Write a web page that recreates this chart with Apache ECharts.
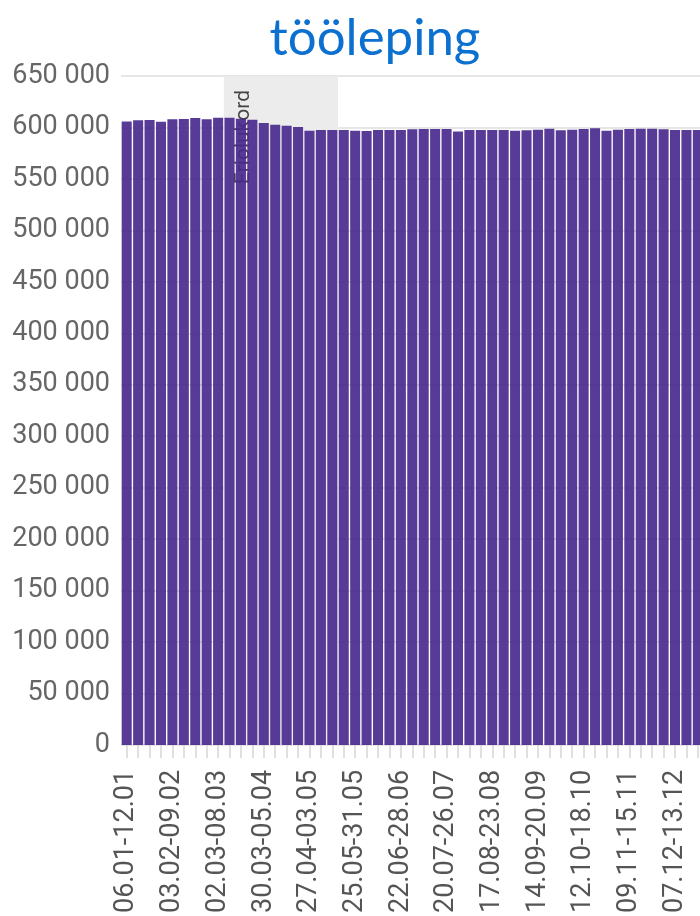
<!DOCTYPE html>
<html>
<head>
<meta charset="utf-8">
<script src="https://cdn.jsdelivr.net/npm/echarts@6/dist/echarts.min.js"></script>
<style>
html,body{margin:0;padding:0;overflow:hidden;background:#fff;width:700px;height:916px;}
#chart{width:750px;height:916px;}
</style>
</head>
<body>
<div id="chart"></div>
<script>
const titleText = 'tööleping';
const weeks = [
 '06.01-12.01','13.01-19.01','20.01-26.01','27.01-02.02','03.02-09.02','10.02-16.02','17.02-23.02','24.02-01.03',
 '02.03-08.03','09.03-15.03','16.03-22.03','23.03-29.03','30.03-05.04','06.04-12.04','13.04-19.04','20.04-26.04',
 '27.04-03.05','04.05-10.05','11.05-17.05','18.05-24.05','25.05-31.05','01.06-07.06','08.06-14.06','15.06-21.06',
 '22.06-28.06','29.06-05.07','06.07-12.07','13.07-19.07','20.07-26.07','27.07-02.08','03.08-09.08','10.08-16.08',
 '17.08-23.08','24.08-30.08','31.08-06.09','07.09-13.09','14.09-20.09','21.09-27.09','28.09-04.10','05.10-11.10',
 '12.10-18.10','19.10-25.10','26.10-01.11','02.11-08.11','09.11-15.11','16.11-22.11','23.11-29.11','30.11-06.12',
 '07.12-13.12','14.12-20.12','21.12-27.12','28.12-03.01'
];
const contracts = [
 605900,606900,607300,605600,607900,608200,609200,607900,
 609500,609500,608500,607600,604400,602700,601700,600400,
 596900,597500,597500,597500,596900,596600,597500,597500,
 597500,598200,598500,598500,598500,596000,597500,597500,
 597500,597500,596900,597200,597800,598800,597200,597800,
 598500,599200,596900,597800,598500,598800,598800,598200,
 597500,597500,597500,597000
];
const emergencyLabel = 'Eriolukord';
const emergencyFirstWeek = '09.03-15.03';
const emergencyLastWeek = '11.05-17.05';
const yTicks = {min: 0, max: 650000, interval: 50000};

const startIdx = weeks.indexOf(emergencyFirstWeek);
const endIdx = weeks.indexOf(emergencyLastWeek) + 1;

const fmt = v => String(v).replace(/\B(?=(\d{3})+(?!\d))/g, ' ');

const chart = echarts.init(document.getElementById('chart'));
chart.setOption({
  animation: false,
  title: {
    text: titleText, left: 'center', top: 8,
    textStyle: {fontFamily: 'Lato', fontWeight: 'normal', fontSize: 51, color: '#0b70d0'}
  },
  grid: {left: 121, right: 35, top: 76, bottom: 171, containLabel: false},
  xAxis: [{
    type: 'category', data: weeks, boundaryGap: true,
    axisLine: {show: false},
    axisTick: {show: true, alignWithLabel: true, interval: 0, length: 13, lineStyle: {color: '#d6d6d6', width: 1.5}},
    axisLabel: {interval: 3, rotate: 90, margin: 25, fontSize: 27, color: '#555', fontFamily: 'Roboto'}
  }, {
    type: 'value', min: 0, max: weeks.length, show: false
  }],
  yAxis: {
    type: 'value', min: yTicks.min, max: yTicks.max, interval: yTicks.interval,
    axisLine: {show: false}, axisTick: {show: false},
    axisLabel: {formatter: fmt, fontSize: 27, color: '#666', margin: 11, fontFamily: 'Roboto'},
    splitLine: {lineStyle: {color: '#dedede', width: 1.5}}
  },
  series: [{
    type: 'line', xAxisIndex: 1, data: [[startIdx, 0]], symbol: 'none', silent: true,
    lineStyle: {opacity: 0}, z: 1,
    markArea: {
      silent: true,
      itemStyle: {color: '#ececec'},
      label: {
        show: true, formatter: emergencyLabel, rotate: 90, position: [20, 14],
        align: 'right', verticalAlign: 'middle', fontSize: 21, color: '#444', fontFamily: 'Roboto'
      },
      data: [[{xAxis: startIdx}, {xAxis: endIdx}]]
    }
  }, {
    type: 'bar', data: contracts, z: 2,
    barCategoryGap: '12%',
    itemStyle: {color: '#4a2a8e', opacity: 0.92}
  }]
});
</script>
</body>
</html>
